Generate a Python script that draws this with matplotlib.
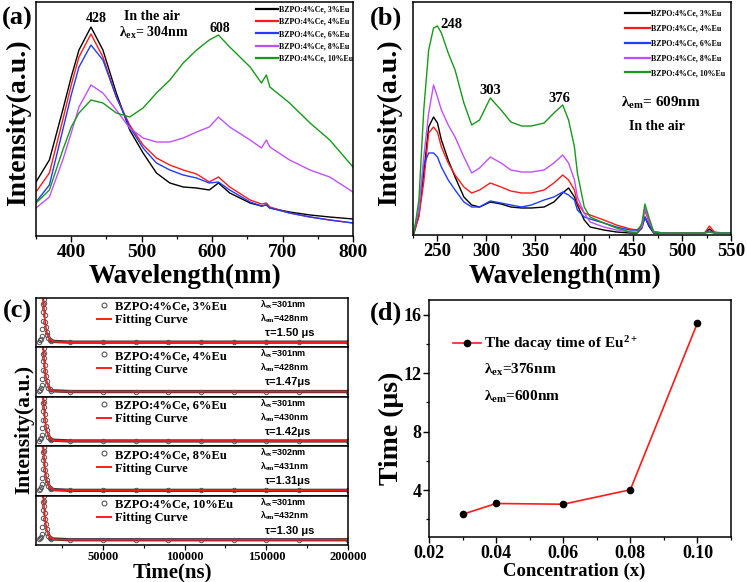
import matplotlib
matplotlib.use('Agg')
import matplotlib.pyplot as plt
import numpy as np
from matplotlib.ticker import MultipleLocator, NullLocator
from matplotlib.lines import Line2D

W, H = 747, 582

plt.rcParams['font.family'] = ['Liberation Serif', 'DejaVu Serif']
plt.rcParams['font.weight'] = 'bold'
plt.rcParams['mathtext.fontset'] = 'custom'
plt.rcParams['mathtext.rm'] = 'Liberation Serif:bold'
plt.rcParams['mathtext.it'] = 'Liberation Serif:bold'
plt.rcParams['mathtext.bf'] = 'Liberation Serif:bold'
plt.rcParams['axes.linewidth'] = 1.1

LABELS = ['BZPO:4%Ce, 3%Eu', 'BZPO:4%Ce, 4%Eu', 'BZPO:4%Ce, 6%Eu',
          'BZPO:4%Ce, 8%Eu', 'BZPO:4%Ce, 10%Eu']
COLORS = ['#000000', '#ff1a1a', '#1f3cff', '#c050ff', '#17991a']

# (a) emission spectra, lambda_ex = 304 nm
WL_A = [350, 369, 388, 400, 411, 428, 445, 464, 483, 502, 521, 540, 559, 578,
        596, 609, 625, 654, 670, 677, 682, 710, 739, 767, 800]
EM_3 = [54, 76, 126, 159, 186, 209, 186, 143, 106, 83, 63, 53, 49, 48,
        46, 53, 43, 33, 30, 31, 28, 24, 21, 19, 17]
EM_4 = [44, 63, 116, 151, 179, 202, 179, 139, 111, 91, 78, 71, 66, 62,
        54, 59, 49, 36, 32, 33, 29, 23, 19, 16, 13]
EM_6 = [34, 51, 106, 141, 169, 191, 176, 139, 109, 88, 73, 66, 61, 58,
        53, 54, 46, 34, 30, 31, 28, 23, 19, 16, 13]
EM_8 = [28, 39, 76, 103, 129, 151, 143, 126, 108, 98, 94, 94, 98, 104,
        109, 119, 109, 96, 88, 96, 89, 76, 66, 59, 44]
EM_10 = [33, 46, 86, 109, 123, 136, 133, 123, 119, 128, 143, 156, 173, 186,
         196, 201, 189, 169, 153, 161, 149, 133, 113, 96, 69]

# (b) excitation spectra, lambda_em = 609 nm
WL_B = [226, 231, 236, 241, 246, 250, 254, 261, 268, 277, 285, 293, 304, 315,
        325, 336, 346, 359, 369, 378, 384, 390, 393, 400, 406, 420, 433, 447,
        454, 459, 462, 466, 471, 481, 498, 514, 523, 528, 533, 542, 550]
EX_3 = [2, 20, 62, 108, 118, 112, 95, 75, 58, 38, 30, 28, 33, 31,
        28, 27, 27, 28, 33, 42, 47, 38, 30, 15, 8, 5, 3, 2,
        2, 7, 18, 9, 2, 2, 2, 2, 2, 6, 2, 2, 2]
EX_4 = [2, 18, 53, 102, 108, 103, 88, 72, 60, 48, 42, 45, 52, 48,
        44, 42, 42, 45, 52, 60, 55, 45, 32, 22, 20, 15, 10, 6,
        5, 10, 25, 13, 3, 2, 2, 2, 2, 9, 3, 2, 2]
EX_6 = [3, 25, 70, 82, 82, 78, 68, 55, 45, 33, 28, 28, 34, 32,
        30, 28, 30, 35, 38, 43, 40, 35, 25, 18, 16, 12, 8, 5,
        5, 8, 18, 10, 3, 2, 2, 2, 2, 4, 2, 2, 2]
EX_8 = [5, 25, 78, 122, 150, 138, 125, 110, 98, 78, 62, 67, 78, 72,
        65, 63, 63, 65, 72, 80, 72, 55, 38, 22, 13, 8, 5, 3,
        3, 8, 27, 15, 3, 2, 2, 2, 2, 3, 2, 2, 2]
EX_10 = [2, 35, 125, 185, 207, 209, 202, 182, 165, 132, 110, 115, 137, 125,
         113, 109, 109, 112, 122, 130, 115, 88, 62, 28, 18, 12, 7, 3,
         2, 12, 31, 18, 3, 2, 2, 2, 2, 3, 2, 2, 2]

# (c) decay curves (normalised)
DECAY_T = [11000, 11500, 12000, 12500, 12800, 13000, 13200, 13400, 13600, 13800,
           14000, 14300, 14600, 15000, 15500, 16000, 16600, 17300, 18000,
           30000, 50000, 70000, 90000, 110000, 130000, 150000, 170000, 200000]
DECAY_I = [0.02, 0.05, 0.08, 0.15, 0.3, 0.5, 0.7, 0.88, 1.0, 0.9,
           0.78, 0.62, 0.48, 0.36, 0.25, 0.17, 0.1, 0.06, 0.03,
           0.01, 0.01, 0.01, 0.01, 0.01, 0.01, 0.01, 0.01, 0.01]
FIT_T = [13400, 13700, 14000, 14500, 15000, 15500, 16000, 17000, 18000,
         20000, 25000, 200000]
FIT_I = [1.08, 0.9, 0.73, 0.52, 0.37, 0.26, 0.19, 0.1, 0.05, 0.02, 0.01, 0.01]
LAM_EX = [301, 301, 301, 302, 301]
LAM_EM = [428, 428, 430, 431, 432]
TAU = ['1.50 μs', '1.47μs', '1.42μs', '1.31μs', '1.30 μs']

# (d) decay time of Eu2+
CONC = [0.03, 0.04, 0.06, 0.08, 0.10]
DECAY_TIME = [2.35, 3.09, 3.04, 4.03, 15.43]


def pxAxes(fig, x0, y0, x1, y1):
	return fig.add_axes([x0 / W, 1 - y1 / H, (x1 - x0) / W, (y1 - y0) / H])


def figText(fig, x, y, s, **kw):
	kw.setdefault('ha', 'center')
	kw.setdefault('va', 'center')
	fig.text(x / W, 1 - y / H, s, **kw)


def spectrum(ax, wl, series, xlim, ylim, major, minor, legAnchor, legSpacing, handleLen):
	for vals, col, lab in zip(series, COLORS, LABELS):
		ax.plot(wl, vals, color=col, lw=1.0, label=lab)
	ax.set_xlim(*xlim)
	ax.set_ylim(*ylim)
	ax.xaxis.set_major_locator(MultipleLocator(major))
	ax.xaxis.set_minor_locator(MultipleLocator(minor))
	ax.yaxis.set_major_locator(NullLocator())
	ax.tick_params(axis='x', which='major', direction='out', length=4, width=1.0,
				   labelsize=14, pad=1.5)
	ax.tick_params(axis='x', which='minor', direction='out', length=2.5, width=0.9)
	leg = ax.legend(loc='upper right', bbox_to_anchor=legAnchor, frameon=False,
					fontsize=5.7, borderpad=0, borderaxespad=0, handlelength=handleLen,
					handletextpad=0.1, labelspacing=legSpacing)
	for ln in leg.get_lines():
		ln.set_linewidth(1.6)


def mainRoutine():
	fig = plt.figure(figsize=(W / 100, H / 100), dpi=100)

	# ---------------- (a)
	axA = pxAxes(fig, 36, 2, 353, 236)
	spectrum(axA, WL_A, [EM_3, EM_4, EM_6, EM_8, EM_10], (350, 800), (0, 234),
			 100, 50, (1.0, 0.985), 0.55, 2.8)
	axA.text(435, 217, '428', ha='center', va='center', fontsize=10)
	axA.text(611, 207, '608', ha='center', va='center', fontsize=10)
	axA.text(515, 219, 'In the air', ha='center', va='center', fontsize=10)
	axA.text(517, 203, 'λ$_{\\mathrm{ex}}$= 304nm', ha='center', va='center', fontsize=10)

	# ---------------- (b)
	axB = pxAxes(fig, 413, 2, 731, 235)
	spectrum(axB, WL_B, [EX_3, EX_4, EX_6, EX_8, EX_10], (225, 550), (0, 233),
			 50, 25, (0.981, 0.966), 0.86, 3.2)
	axB.set_xticks([250, 300, 350, 400, 450, 500, 550])
	axB.tick_params(axis='x', labelsize=13.5)
	axB.text(264, 211, '248', ha='center', va='center', fontsize=10.5)
	axB.text(304, 145, '303', ha='center', va='center', fontsize=10.5)
	axB.text(375, 137, '376', ha='center', va='center', fontsize=10.5)
	axB.text(478, 132, 'λ$_{\\mathrm{em}}$= 609nm', ha='center', va='center', fontsize=11)
	axB.text(474, 108, 'In the air', ha='center', va='center', fontsize=10)

	# ---------------- (c) five stacked decay panels
	top, bot = 298, 545
	step = (bot - top) / 5.0
	tailIdx = DECAY_T.index(18000)
	for i in range(5):
		ax = pxAxes(fig, 36, top + i * step, 348, top + (i + 1) * step)
		ax.plot(DECAY_T[tailIdx:], DECAY_I[tailIdx:], '-', color='#3a3a3a', lw=2.4)
		ax.plot(DECAY_T, DECAY_I, 'o', mfc='none', mec='#555555', ms=3.2, mew=0.7)
		ax.plot(FIT_T, FIT_I, '-', color='#ff1a1a', lw=1.2)
		ax.set_xlim(9000, 200000)
		ax.set_ylim(-0.11, 1.02)
		ax.yaxis.set_major_locator(NullLocator())
		ax.xaxis.set_major_locator(MultipleLocator(50000))
		ax.xaxis.set_minor_locator(MultipleLocator(25000))
		if i < 4:
			ax.tick_params(axis='x', which='both', bottom=False, labelbottom=False)
		else:
			ax.tick_params(axis='x', which='major', direction='out', length=3.5,
						   width=0.9, labelsize=9, pad=0.5)
			ax.tick_params(axis='x', which='minor', direction='out', length=2, width=0.8)
		handles = [Line2D([], [], ls='none', marker='o', mfc='none', mec='#555555',
						  ms=3.5, mew=0.8),
				   Line2D([], [], color='#ff1a1a', lw=1.4)]
		ax.legend(handles, [LABELS[i], 'Fitting Curve'], loc='upper left',
				  bbox_to_anchor=(0.196, 0.95), frameon=False, fontsize=9,
				  borderpad=0, borderaxespad=0, handlelength=1.1, handletextpad=0.3,
				  labelspacing=0.15, numpoints=1)
		ax.text(0.718, 0.86, 'λ$_{\\mathrm{ex}}$=%dnm' % LAM_EX[i], transform=ax.transAxes,
				ha='left', va='center', fontsize=6.5, family='Liberation Sans')
		ax.text(0.718, 0.58, 'λ$_{\\mathrm{em}}$=%dnm' % LAM_EM[i], transform=ax.transAxes,
				ha='left', va='center', fontsize=6.5, family='Liberation Sans')
		ax.text(0.734, 0.29, 'τ=' + TAU[i], transform=ax.transAxes,
				ha='left', va='center', fontsize=8, family='Liberation Sans')

	# ---------------- (d)
	axD = pxAxes(fig, 429, 300, 731, 537)
	axD.plot(CONC, DECAY_TIME, '-', color='#ff1a1a', lw=1.2, marker='o', mfc='black',
			 mec='black', ms=4.5, label='The dacay time of Eu$^{2+}$')
	axD.set_xlim(0.02, 0.11)
	axD.set_ylim(0.8, 17.0)
	axD.xaxis.set_major_locator(MultipleLocator(0.02))
	axD.xaxis.set_minor_locator(MultipleLocator(0.01))
	axD.yaxis.set_major_locator(MultipleLocator(4))
	axD.yaxis.set_minor_locator(MultipleLocator(2))
	axD.set_yticks([4, 8, 12, 16])
	axD.tick_params(which='major', direction='out', length=4.5, width=1.0, labelsize=13, pad=1)
	axD.tick_params(which='minor', direction='out', length=2.5, width=0.9)
	axD.legend(loc='upper left', bbox_to_anchor=(0.079, 0.855), frameon=False, fontsize=11,
			   borderpad=0, borderaxespad=0, handlelength=1.85, handletextpad=0.2)
	axD.text(0.182, 0.705, 'λ$_{\\mathrm{ex}}$=376nm', transform=axD.transAxes,
			 ha='left', va='center', fontsize=11)
	axD.text(0.182, 0.591, 'λ$_{\\mathrm{em}}$=600nm', transform=axD.transAxes,
			 ha='left', va='center', fontsize=11)

	# axis titles and panel letters
	figText(fig, 19, 123, 'Intensity(a.u.)', rotation=90, fontsize=20)
	figText(fig, 390, 123, 'Intensity(a.u.)', rotation=90, fontsize=20)
	figText(fig, 24, 429, 'Intensity(a.u.)', rotation=90, fontsize=15.5)
	figText(fig, 391, 428, 'Time (μs)', rotation=90, fontsize=20)
	figText(fig, 185, 276, 'Wavelength(nm)', fontsize=19.5)
	figText(fig, 565, 276, 'Wavelength(nm)', fontsize=19.5)
	figText(fig, 172, 572, 'Time(ns)', fontsize=15)
	figText(fig, 574, 571, 'Concentration (x)', fontsize=13.5)
	figText(fig, 17, 18, '(a)', fontsize=19)
	figText(fig, 386, 18, '(b)', fontsize=19)
	figText(fig, 17, 311, '(c)', fontsize=19)
	figText(fig, 386, 313, '(d)', fontsize=19)

	fig.savefig('out.png', dpi=100)


if __name__ == '__main__':
	mainRoutine()
